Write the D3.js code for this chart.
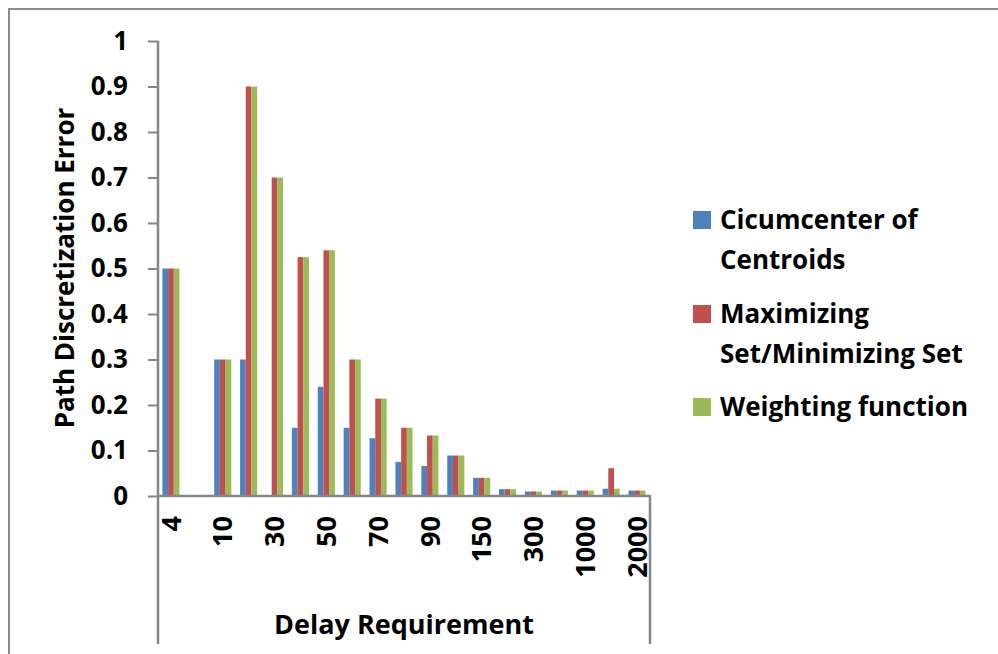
<!DOCTYPE html>
<html>
<head>
<meta charset="utf-8">
<script src="https://cdn.jsdelivr.net/npm/d3@7"></script>
<style>
  html, body { margin: 0; padding: 0; background: #fff; }
  svg { display: block; font-family: "Open Sans", sans-serif; font-weight: bold; }
</style>
</head>
<body>
<svg id="chart" width="998" height="654"></svg>
<script>
// Delay requirement categories (only every other one is labelled on the axis)
const categories = ["4", "5", "10", "20", "30", "40", "50", "60", "70", "80",
                    "90", "100", "150", "200", "300", "500", "1000", "1500", "2000"];
const seriesNames = ["Cicumcenter of Centroids", "Maximizing Set/Minimizing Set", "Weighting function"];
const legendLines = [["Cicumcenter of", "Centroids"], ["Maximizing", "Set/Minimizing Set"], ["Weighting function"]];
const colors = ["#4F81BD", "#C0504D", "#9BBB59"];

const circumcenter = [0.5, 0, 0.3, 0.3, 0, 0.15, 0.24, 0.15, 0.127, 0.075,
                      0.066, 0.089, 0.04, 0.015, 0.01, 0.012, 0.012, 0.016, 0.012];
const maxMinSet    = [0.5, 0, 0.3, 0.9, 0.7, 0.525, 0.54, 0.3, 0.214, 0.15,
                      0.133, 0.089, 0.04, 0.015, 0.01, 0.012, 0.012, 0.061, 0.012];
const weighting    = [0.5, 0, 0.3, 0.9, 0.7, 0.525, 0.54, 0.3, 0.214, 0.15,
                      0.133, 0.089, 0.04, 0.015, 0.01, 0.012, 0.012, 0.016, 0.012];
const seriesValues = [circumcenter, maxMinSet, weighting];

const yTicks = [0, 0.1, 0.2, 0.3, 0.4, 0.5, 0.6, 0.7, 0.8, 0.9, 1];

const svg = d3.select("#chart");
const axisColor = "#868686";
const fontFamily = "'Open Sans', sans-serif";

// outer frame (top and left edges)
svg.append("path")
  .attr("d", "M9,654 V9 H998")
  .attr("fill", "none").attr("stroke", "#8c8c8c").attr("stroke-width", 2);

const plot = { left: 158, right: 650, top: 41, bottom: 496 };

const x = d3.scaleBand().domain(categories).range([plot.left, plot.right]).paddingInner(0.34).paddingOuter(0.17);
const xSub = d3.scaleBand().domain(d3.range(seriesNames.length)).range([0, x.bandwidth()]);
const y = d3.scaleLinear().domain([0, 1]).range([plot.bottom, plot.top]);

// bars
const groups = svg.append("g").selectAll("g")
  .data(categories)
  .join("g")
  .attr("transform", c => `translate(${x(c)},0)`);

groups.selectAll("rect")
  .data((c, i) => seriesValues.map((vals, s) => ({ s, v: vals[i] })))
  .join("rect")
  .attr("x", d => xSub(d.s))
  .attr("width", xSub.bandwidth())
  .attr("y", d => y(d.v))
  .attr("height", d => plot.bottom - y(d.v))
  .attr("fill", d => colors[d.s]);

// y axis
const yAxis = svg.append("g")
  .attr("transform", `translate(${plot.left},0)`)
  .call(d3.axisLeft(y).tickValues(yTicks).tickSize(10).tickPadding(20).tickFormat(d3.format("")));
yAxis.select(".domain").remove();
yAxis.selectAll(".tick line").attr("stroke", axisColor).attr("stroke-width", 2);
yAxis.selectAll(".tick text").attr("font-size", 26).attr("font-weight", "bold")
  .attr("font-family", fontFamily).attr("fill", "#000");

// axis lines: vertical value axis extends below the category axis, closed at the right
svg.append("path")
  .attr("d", `M${plot.left},${plot.top} V644 M${plot.left},${plot.bottom} H${plot.right} V644`)
  .attr("fill", "none").attr("stroke", axisColor).attr("stroke-width", 2.5);

// x axis labels (every other category), rotated
const xAxis = svg.append("g")
  .attr("transform", `translate(0,${plot.bottom})`)
  .call(d3.axisBottom(x).tickSize(0).tickFormat((d, i) => i % 2 === 0 ? d : ""));
xAxis.select(".domain").remove();
xAxis.selectAll(".tick text")
  .attr("transform", "rotate(-90)")
  .attr("text-anchor", "end")
  .attr("x", -20).attr("y", 0).attr("dy", "0.36em")
  .attr("font-size", 27).attr("font-weight", "bold")
  .attr("font-family", fontFamily).attr("fill", "#000");

// axis titles
svg.append("text")
  .attr("transform", "translate(74,268) rotate(-90)")
  .attr("text-anchor", "middle")
  .attr("font-size", 26)
  .text("Path Discretization Error");

svg.append("text")
  .attr("x", 404).attr("y", 634)
  .attr("text-anchor", "middle")
  .attr("font-size", 27)
  .text("Delay Requirement");

// legend
const legendTop = [211, 305, 398];
const legend = svg.append("g");
seriesNames.forEach((name, i) => {
  legend.append("rect")
    .attr("x", 693).attr("y", legendTop[i])
    .attr("width", 18).attr("height", 18)
    .attr("fill", colors[i]);
  const t = legend.append("text")
    .attr("x", 720).attr("y", legendTop[i] + 18)
    .attr("font-size", 26);
  legendLines[i].forEach((line, j) => {
    t.append("tspan").attr("x", 720).attr("dy", j === 0 ? 0 : 40).text(line);
  });
});
</script>
</body>
</html>
